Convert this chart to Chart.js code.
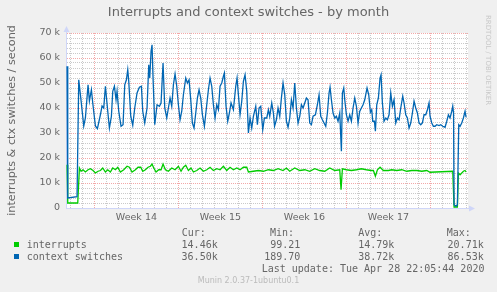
<!DOCTYPE html>
<html>
<head>
<meta charset="utf-8">
<script src="https://cdn.jsdelivr.net/npm/chart.js@4.4.1/dist/chart.umd.min.js"></script>
<style>
html,body{margin:0;padding:0;background:#F0F0F0;}
#wrap{position:relative;width:497px;height:292px;overflow:hidden;background:#F0F0F0;}
#c{position:absolute;left:0;top:0;}
.t{position:absolute;white-space:pre;color:#666666;}
.mono{font-family:"DejaVu Sans Mono",monospace;font-size:10px;line-height:12px;}
#title{left:0;top:4px;width:497px;text-align:center;font-family:"DejaVu Sans",sans-serif;font-size:13px;line-height:16px;}
#munin{left:0;top:276px;width:497px;text-align:center;font-family:"DejaVu Sans",sans-serif;font-size:8px;line-height:10px;color:#bbbbbb;}
#wm{left:484px;top:15px;writing-mode:vertical-rl;font-family:"DejaVu Sans",sans-serif;font-size:7px;line-height:8px;color:#c8c8c8;}
.sq{position:absolute;width:5px;height:5px;}
</style>
</head>
<body>
<div id="wrap">
<canvas id="c" width="497" height="292"></canvas>
<div class="t" id="title">Interrupts and context switches - by month</div>
<div class="t" id="wm">RRDTOOL / TOBI OETIKER</div>
<div class="t" id="munin">Munin 2.0.37-1ubuntu0.1</div>
<div id="legend"></div>
</div>
<script>
// ---------- data (time in hours since start of week 14, values in thousands/second) ----------
const chartTitle = 'Interrupts and context switches - by month';
const yAxisTitle = 'interrupts & ctx switches / second';
const weekLabels = ['Week 14', 'Week 15', 'Week 16', 'Week 17'];
const weekLabelHours = [84, 252, 420, 588];
const yTickLabels = ['0', '10 k', '20 k', '30 k', '40 k', '50 k', '60 k', '70 k'];
const X_MIN = -56.8, X_MAX = 747.2;

const ctxHours = [-54.7,-53.3,-34.7,-31.3,-26.7,-21.3,-18,-12.7,-10,-6,-3.3,2,6,12,15.3,18.7,22,26.7,30,34,36.7,40,43.3,45.3,48.7,53.3,57.3,60.7,64,66.7,68.7,72.7,76.7,80.7,85.3,90,94,96.7,100.7,105.3,108.7,110.7,113.3,115.3,117.3,120.7,125.3,130,133.3,137.3,140.7,144.7,148,151.3,154.7,158,161.3,164.7,168,171.3,174.7,178,182.7,186,189.3,192.7,196,199.3,202.7,206,209.3,212.7,216,220,224.7,228,231.3,234.7,238,241.3,244.7,248,251.3,254.7,258,260,263.3,266.7,270,273.3,278,282.7,285.3,288,291.3,294.7,298,301.3,304.7,308,311.3,314.7,318,322.7,326,329.3,332.7,336.7,340,344.7,348,350.7,354.7,358,360.3,364,367.3,370.7,374,377.3,380.7,384,387.3,390.7,394,397.3,400.7,404,407.3,410.7,414,417.3,420.7,424,427.3,430.7,434,437.3,442,446,449.3,452.7,456,459.3,462.7,466,469.3,471.3,474,477.3,480.7,484,487.3,490.7,494,496,498.7,500.7,504,507.3,510.7,514,517.3,520.7,524,527.3,530.7,534,537.3,540.7,545.3,548.7,552,554.7,556.7,560,562,564.7,568,571.3,573.3,576,579.3,582.7,586,589.3,592.7,596,599.3,602.7,606,609.3,612.7,616.7,619.3,622.7,626,629.3,632.7,636,639.3,642.7,646,649.3,652.7,656,659.3,662.7,666,669.3,671.3,674.7,678,681.3,684.7,689.3,692.7,696.7,701.3,704.7,708,711.3,714.7,716.7,718.3,719.3,723.3,726,728.7,731.3,734.7,738,741.3,743.3];
const ctxValues = [56.7,4,4.5,51.3,43,32.8,36,49.3,42.8,47.3,42,32.8,31.7,37.3,40.8,40,48.7,38.7,32,36.7,46.7,48.7,43.3,46.7,38.7,32.7,33.3,49.3,51.3,55.3,50.7,36.7,33.1,40,46,48.3,48.7,38.7,34,40,57.3,52,62.7,65.3,52,33.3,41.3,40.7,42,58,40,36,40,44,40.7,49.3,53.6,48.7,41.3,35.3,38.7,45.3,52,50,51.3,43.3,34,32,38,44,47.3,44,37.3,32.7,41.3,47.3,52,48.7,41.3,36,41.3,39.3,48.7,50,52.7,54,40.7,34.7,38,42,39.3,48.7,52,45.3,37.3,42.7,50.7,53.3,46.7,30,36,32,36.7,40.7,33.3,40,40.7,31.3,36,36,39.3,36.7,42,38,32.7,35.3,40,36.7,44,50,45.3,34.7,32.3,36,43.3,40,50,40,34,36.7,41.3,40,42,44,43.3,34,33.3,36.7,37.3,41.3,45.3,36.7,35.3,34,32.7,38,46,48.3,43.3,38,36,36.7,34.7,38,22.7,46,48,43.3,37.3,34.7,37.3,34.7,40,44,40.7,34,38.7,40,41.3,43.3,48,45.3,38.3,39.3,34.7,34.7,30.7,41.3,44,52,53.3,42,34.7,36,35.3,37.3,46,40.7,43.3,34,36,35.3,40,44.7,42,37.3,36,32,34,38,42.7,40,38,34,33.3,34,37.3,37.3,39.3,42,36.7,34,32.7,32.7,33.3,33,33.3,32.7,32.3,34.7,37.3,36,38.7,40.7,38,1.3,0.7,1.3,33.3,32.7,34,36,38.7,36.3];

const intHours = [-54.7,-53.3,-33.3,-30,-26.7,-22.7,-18,-12.7,-8,-2.7,2,7.3,12,16.7,22,26.7,32,36.7,42,46.7,52,58.7,65.3,70,75.3,82,87.3,92.7,96.7,102,107.3,112,115.3,118.7,123.3,128.7,133.3,137.3,142,148,154.7,161.3,168,173.3,178,182.7,188,193.3,198,204.7,211.3,218,224.7,231.3,238,244.7,251.3,258,264.7,271.3,278,284.7,291.3,298,304.7,308,318,328,338,348,358,367.3,377.3,384,390.7,400.7,410.7,420.7,430.7,440.7,450.7,460.7,470.7,480.7,490.7,493.3,496,504,514,524,534,544,554,558,562,566,571.3,578,588,594.7,604.7,614.7,624.7,634.7,644.7,654.7,664.7,671.3,716.7,719.3,726,728,731.3,734.7,738,741.3,743.3];
const intValues = [17.3,2,2,16,14.7,15.3,14.4,15.3,15.7,15,14,14.7,15,16,14.4,15.3,14.4,16,15.3,16.3,14.4,15.3,16.7,16.3,14.4,15.3,16.3,16.3,14.7,15.3,16.3,16.7,17.6,16,14.4,15.3,15.3,17.6,15.3,14.7,16,15.3,16.7,14.7,16.3,17.1,15,16,14.4,15,16,14.7,15.3,16.3,15,15.7,15.3,16.7,15,16.3,15.3,16,15.3,16.3,16.3,14.4,14.7,15,14.7,15.3,15,15.7,15,16,14.7,16,15,15.3,14.7,15.7,15,14.7,16,15,15.3,7.3,15.7,15.3,15,15.3,15.7,15.3,15,15,12.7,15.3,16.3,15,15,15.3,15,15.3,14.7,15,15,14.7,15,14.3,14.7,0.4,0.4,14,13.3,14,14.7,15,14.4];

const seriesNames = ['interrupts', 'context switches'];
const seriesColors = ['#00CC00', '#0066B3'];
const legendHeaders = ['Cur:', 'Min:', 'Avg:', 'Max:'];
const curValues = ['14.46k', '36.50k'];
const minValues = ['99.21', '189.70'];
const avgValues = ['14.79k', '38.72k'];
const maxValues = ['20.71k', '86.53k'];
const lastUpdate = 'Last update: Tue Apr 28 22:05:44 2020';

// ---------- legend (HTML text) ----------
(function buildLegend(){
  const L = document.getElementById('legend');
  const add = (text, css) => {
    const d = document.createElement('div');
    d.className = 't mono';
    d.textContent = text;
    Object.assign(d.style, css);
    L.appendChild(d);
  };
  const headerLeft = [181.7, 270, 358.3, 446.7];
  const colRight = [217.7, 300.3, 394.3, 483.7];
  const rowTop = [238.5, 250.5];
  legendHeaders.forEach((h, i) => add(h, {left: headerLeft[i] + 'px', top: '227px'}));
  const cols = [curValues, minValues, avgValues, maxValues];
  seriesNames.forEach((name, r) => {
    const sq = document.createElement('div');
    sq.className = 'sq';
    sq.style.left = '14px';
    sq.style.top = (242 + r * 12) + 'px';
    sq.style.background = seriesColors[r];
    L.appendChild(sq);
    add(name, {left: '26.7px', top: rowTop[r] + 'px'});
    cols.forEach((col, c) => add(col[r], {right: (497 - colRight[c]) + 'px', top: rowTop[r] + 'px', textAlign: 'right'}));
  });
  add(lastUpdate, {left: '261.7px', top: '262.8px'});
})();

// ---------- chart ----------
const GRID_MINOR = 'rgba(150,150,150,0.5)';
const GRID_MAJOR = 'rgba(235,110,110,0.6)';
const AXIS = '#CFD6F8';
const FONT_COLOR = '#666666';

const canvasBg = {
  id: 'canvasBg',
  beforeDraw(chart) {
    const {ctx, chartArea: a} = chart;
    ctx.save();
    ctx.fillStyle = '#FFFFFF';
    ctx.fillRect(a.left, a.top, a.right - a.left, a.bottom - a.top);
    ctx.restore();
  }
};
const axisArrows = {
  id: 'axisArrows',
  afterDraw(chart) {
    const {ctx, chartArea: a} = chart;
    ctx.save();
    ctx.strokeStyle = AXIS; ctx.fillStyle = AXIS; ctx.lineWidth = 1;
    const x0 = Math.round(a.left) + 0.5, y0 = Math.round(a.bottom) + 0.5;
    ctx.beginPath(); ctx.moveTo(x0, a.top); ctx.lineTo(x0, a.top - 3); ctx.stroke();
    ctx.beginPath(); ctx.moveTo(x0 - 3, a.top - 1); ctx.lineTo(x0 + 3, a.top - 1); ctx.lineTo(x0, a.top - 7); ctx.closePath(); ctx.fill();
    ctx.beginPath(); ctx.moveTo(a.right, y0); ctx.lineTo(a.right + 2, y0); ctx.stroke();
    ctx.beginPath(); ctx.moveTo(a.right + 1, y0 - 3); ctx.lineTo(a.right + 1, y0 + 3); ctx.lineTo(a.right + 7, y0); ctx.closePath(); ctx.fill();
    ctx.restore();
  }
};

const toPoints = (xs, ys) => xs.map((x, i) => ({x: x, y: ys[i]}));

new Chart(document.getElementById('c'), {
  type: 'line',
  data: {
    datasets: [
      {label: seriesNames[0], data: toPoints(intHours, intValues), borderColor: seriesColors[0], backgroundColor: seriesColors[0], borderWidth: 1.3, pointRadius: 0, tension: 0, order: 1},
      {label: seriesNames[1], data: toPoints(ctxHours, ctxValues), borderColor: seriesColors[1], backgroundColor: seriesColors[1], borderWidth: 1.3, pointRadius: 0, tension: 0, order: 0}
    ]
  },
  options: {
    responsive: false,
    animation: false,
    devicePixelRatio: 1,
    layout: {padding: {left: 1, top: 33, right: 29, bottom: 64}},
    plugins: {legend: {display: false}, tooltip: {enabled: false}, title: {display: false}},
    scales: {
      x: {
        type: 'linear', min: X_MIN, max: X_MAX,
        afterBuildTicks(axis) {
          const ticks = [];
          for (let t = -48; t < X_MAX; t += 24) ticks.push({value: t, kind: (t % 168 === 0) ? 'major' : 'minor'});
          weekLabelHours.forEach((h, i) => ticks.push({value: h, kind: 'label', text: weekLabels[i]}));
          ticks.sort((a, b) => a.value - b.value);
          axis.ticks = ticks;
        },
        afterFit(scale) { scale.height = 20; scale.paddingLeft = 0; scale.paddingRight = 0; },
        grid: {
          drawTicks: false, lineWidth: 1,
          color: (c) => c.tick && c.tick.kind === 'label' ? 'rgba(0,0,0,0)' : (c.tick && c.tick.kind === 'major' ? GRID_MAJOR : GRID_MINOR)
        },
        border: {display: true, color: AXIS, width: 1, dash: [1, 1]},
        ticks: {
          autoSkip: false, maxRotation: 0, minRotation: 0, padding: 3.5, color: FONT_COLOR,
          font: {family: 'DejaVu Sans', size: 9.5},
          callback: (v, i, ticks) => ticks[i].kind === 'label' ? ticks[i].text : ''
        }
      },
      y: {
        min: 0, max: 70,
        afterBuildTicks(axis) {
          const ticks = [];
          for (let v = 0; v <= 70; v += 2) ticks.push({value: v});
          axis.ticks = ticks;
        },
        afterFit(scale) { scale.width = 65; scale.paddingTop = 0; scale.paddingBottom = 0; },
        grid: {
          drawTicks: false, lineWidth: 1,
          color: (c) => c.tick && c.tick.value % 10 === 0 ? GRID_MAJOR : GRID_MINOR
        },
        border: {display: true, color: AXIS, width: 1, dash: [1, 1]},
        ticks: {
          autoSkip: false, padding: 6, color: FONT_COLOR,
          font: {family: 'DejaVu Sans', size: 9.5},
          callback: (v) => v % 10 === 0 ? yTickLabels[v / 10] : ''
        },
        title: {
          display: true, text: yAxisTitle, color: FONT_COLOR,
          font: {family: 'DejaVu Sans', size: 11.2}, padding: {top: 4, bottom: 0}
        }
      }
    }
  },
  plugins: [canvasBg, axisArrows]
});
</script>
</body>
</html>
